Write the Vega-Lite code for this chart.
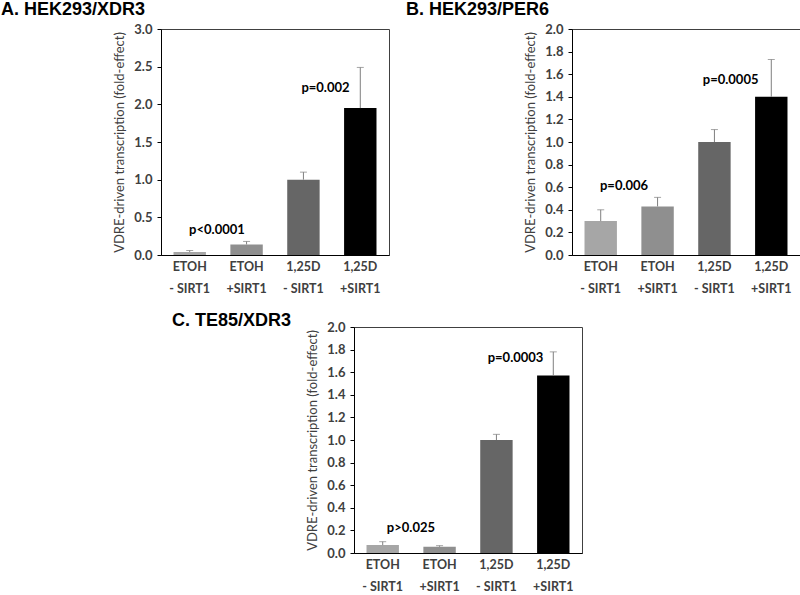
{
  "$schema": "https://vega.github.io/schema/vega-lite/v6.json",
  "padding": 0,
  "autosize": {"type": "pad"},
  "background": "white",
  "config": {
    "view": {"stroke": "#404040", "strokeWidth": 1},
    "axis": {"grid": false, "domainColor": "#000", "tickColor": "#000", "labelColor": "#404040", "labelFont": "Lato", "labelFontWeight": "bold", "labelFontSize": 13, "titleColor": "#404040", "titleFont": "Lato", "titleFontWeight": "normal", "titleFontSize": 13},
    "axisX": {"title": null, "labelAngle": 0, "ticks": false, "labelPadding": 5, "labelLineHeight": 22, "labelFontSize": 12.5, "labelExpr": "split(datum.label, '|')"},
    "axisY": {"tickSize": 4, "labelPadding": 5, "titlePadding": 7, "labelOverlap": false, "labelFlush": false},
    "title": {"font": "Liberation Sans", "fontSize": 18, "fontWeight": "bold", "color": "#000", "anchor": "start", "frame": "group", "baseline": "alphabetic"},
    "bar": {"stroke": null},
    "rule": {"color": "#7f7f7f", "strokeWidth": 1},
    "tick": {"color": "#7f7f7f", "thickness": 1, "size": 7},
    "text": {"font": "Lato", "fontWeight": "bold", "fontSize": 13, "color": "#000", "baseline": "middle", "align": "center"}
  },
  "datasets": {
    "a": [
      {"group": "ETOH|- SIRT1", "value": 0.04, "upper": 0.06},
      {"group": "ETOH|+SIRT1", "value": 0.14, "upper": 0.18},
      {"group": "1,25D|- SIRT1", "value": 1.0, "upper": 1.1},
      {"group": "1,25D|+SIRT1", "value": 1.95, "upper": 2.49}
    ],
    "b": [
      {"group": "ETOH|- SIRT1", "value": 0.3, "upper": 0.4},
      {"group": "ETOH|+SIRT1", "value": 0.43, "upper": 0.51},
      {"group": "1,25D|- SIRT1", "value": 1.0, "upper": 1.11},
      {"group": "1,25D|+SIRT1", "value": 1.4, "upper": 1.73}
    ],
    "c": [
      {"group": "ETOH|- SIRT1", "value": 0.07, "upper": 0.1},
      {"group": "ETOH|+SIRT1", "value": 0.055, "upper": 0.065},
      {"group": "1,25D|- SIRT1", "value": 1.0, "upper": 1.05},
      {"group": "1,25D|+SIRT1", "value": 1.57, "upper": 1.78}
    ]
  },
  "spacing": 298,
  "bounds": "flush",
  "vconcat": [
    {
      "spacing": 183,
      "bounds": "flush",
      "hconcat": [
        {
          "width": 228, "height": 226,
          "title": {"text": "A. HEK293/XDR3", "dx": -160, "offset": 4},
          "data": {"name": "a"},
          "encoding": {"x": {"field": "group", "type": "nominal", "scale": {"domain": ["ETOH|- SIRT1", "ETOH|+SIRT1", "1,25D|- SIRT1", "1,25D|+SIRT1"], "paddingInner": 0.43, "paddingOuter": 0.22}}},
          "layer": [
            {"mark": "bar", "encoding": {
              "y": {"field": "value", "type": "quantitative", "scale": {"domain": [0, 3]}, "axis": {"title": "VDRE-driven transcription (fold-effect)", "values": [0, 0.5, 1, 1.5, 2, 2.5, 3], "labelOverlap": false}},
              "color": {"field": "group", "type": "nominal", "scale": {"domain": ["ETOH|- SIRT1", "ETOH|+SIRT1", "1,25D|- SIRT1", "1,25D|+SIRT1"], "range": ["#a6a6a6", "#8f8f8f", "#666666", "#000000"]}, "legend": null}}},
            {"mark": "rule", "encoding": {"y": {"field": "value", "type": "quantitative", "axis": {"title": "VDRE-driven transcription (fold-effect)", "values": [0, 0.5, 1, 1.5, 2, 2.5, 3], "labelOverlap": false}}, "y2": {"field": "upper"}}},
            {"mark": "tick", "encoding": {"y": {"field": "upper", "type": "quantitative", "axis": {"title": "VDRE-driven transcription (fold-effect)", "values": [0, 0.5, 1, 1.5, 2, 2.5, 3], "labelOverlap": false}}}},
            {"data": {"values": [{"group": "ETOH|- SIRT1", "label": "p<0.0001", "level": 0.33}]}, "mark": "text", "encoding": {"x": {"field": "group", "type": "nominal", "bandPosition": 1.34}, "y": {"field": "level", "type": "quantitative", "axis": {"title": "VDRE-driven transcription (fold-effect)", "values": [0, 0.5, 1, 1.5, 2, 2.5, 3], "labelOverlap": false}}, "text": {"field": "label"}}},
            {"data": {"values": [{"group": "1,25D|- SIRT1", "label": "p=0.002", "level": 2.22}]}, "mark": "text", "encoding": {"x": {"field": "group", "type": "nominal", "bandPosition": 1.18}, "y": {"field": "level", "type": "quantitative", "axis": {"title": "VDRE-driven transcription (fold-effect)", "values": [0, 0.5, 1, 1.5, 2, 2.5, 3], "labelOverlap": false}}, "text": {"field": "label"}}}
          ]
        },
        {
          "width": 228, "height": 226,
          "title": {"text": "B. HEK293/PER6", "dx": -166, "offset": 4},
          "data": {"name": "b"},
          "encoding": {"x": {"field": "group", "type": "nominal", "scale": {"domain": ["ETOH|- SIRT1", "ETOH|+SIRT1", "1,25D|- SIRT1", "1,25D|+SIRT1"], "paddingInner": 0.43, "paddingOuter": 0.22}}},
          "layer": [
            {"mark": "bar", "encoding": {
              "y": {"field": "value", "type": "quantitative", "scale": {"domain": [0, 2]}, "axis": {"title": "VDRE-driven transcription (fold-effect)", "values": [0, 0.2, 0.4, 0.6, 0.8, 1, 1.2, 1.4, 1.6, 1.8, 2], "labelOverlap": false}},
              "color": {"field": "group", "type": "nominal", "scale": {"domain": ["ETOH|- SIRT1", "ETOH|+SIRT1", "1,25D|- SIRT1", "1,25D|+SIRT1"], "range": ["#a6a6a6", "#8f8f8f", "#666666", "#000000"]}, "legend": null}}},
            {"mark": "rule", "encoding": {"y": {"field": "value", "type": "quantitative", "axis": {"title": "VDRE-driven transcription (fold-effect)", "values": [0, 0.2, 0.4, 0.6, 0.8, 1, 1.2, 1.4, 1.6, 1.8, 2], "labelOverlap": false}}, "y2": {"field": "upper"}}},
            {"mark": "tick", "encoding": {"y": {"field": "upper", "type": "quantitative", "axis": {"title": "VDRE-driven transcription (fold-effect)", "values": [0, 0.2, 0.4, 0.6, 0.8, 1, 1.2, 1.4, 1.6, 1.8, 2], "labelOverlap": false}}}},
            {"data": {"values": [{"group": "ETOH|- SIRT1", "label": "p=0.006", "level": 0.61}]}, "mark": "text", "encoding": {"x": {"field": "group", "type": "nominal", "bandPosition": 1.22}, "y": {"field": "level", "type": "quantitative", "axis": {"title": "VDRE-driven transcription (fold-effect)", "values": [0, 0.2, 0.4, 0.6, 0.8, 1, 1.2, 1.4, 1.6, 1.8, 2], "labelOverlap": false}}, "text": {"field": "label"}}},
            {"data": {"values": [{"group": "1,25D|- SIRT1", "label": "p=0.0005", "level": 1.55}]}, "mark": "text", "encoding": {"x": {"field": "group", "type": "nominal", "bandPosition": 1.0}, "y": {"field": "level", "type": "quantitative", "axis": {"title": "VDRE-driven transcription (fold-effect)", "values": [0, 0.2, 0.4, 0.6, 0.8, 1, 1.2, 1.4, 1.6, 1.8, 2], "labelOverlap": false}}, "text": {"field": "label"}}}
          ]
        }
      ]
    },
    {
      "spacing": 10,
      "bounds": "flush",
      "hconcat": [
        {"width": 183, "height": 10, "view": {"stroke": null}, "data": {"values": [{"k": 0}]}, "mark": {"type": "point", "opacity": 0}, "encoding": {}},
        {
          "width": 228, "height": 226,
          "title": {"text": "C. TE85/XDR3", "dx": -182, "offset": -9},
          "data": {"name": "c"},
          "encoding": {"x": {"field": "group", "type": "nominal", "scale": {"domain": ["ETOH|- SIRT1", "ETOH|+SIRT1", "1,25D|- SIRT1", "1,25D|+SIRT1"], "paddingInner": 0.43, "paddingOuter": 0.22}}},
          "layer": [
            {"mark": "bar", "encoding": {
              "y": {"field": "value", "type": "quantitative", "scale": {"domain": [0, 2]}, "axis": {"title": "VDRE-driven transcription (fold-effect)", "values": [0, 0.2, 0.4, 0.6, 0.8, 1, 1.2, 1.4, 1.6, 1.8, 2], "labelOverlap": false}},
              "color": {"field": "group", "type": "nominal", "scale": {"domain": ["ETOH|- SIRT1", "ETOH|+SIRT1", "1,25D|- SIRT1", "1,25D|+SIRT1"], "range": ["#a6a6a6", "#8f8f8f", "#666666", "#000000"]}, "legend": null}}},
            {"mark": "rule", "encoding": {"y": {"field": "value", "type": "quantitative", "axis": {"title": "VDRE-driven transcription (fold-effect)", "values": [0, 0.2, 0.4, 0.6, 0.8, 1, 1.2, 1.4, 1.6, 1.8, 2], "labelOverlap": false}}, "y2": {"field": "upper"}}},
            {"mark": "tick", "encoding": {"y": {"field": "upper", "type": "quantitative", "axis": {"title": "VDRE-driven transcription (fold-effect)", "values": [0, 0.2, 0.4, 0.6, 0.8, 1, 1.2, 1.4, 1.6, 1.8, 2], "labelOverlap": false}}}},
            {"data": {"values": [{"group": "ETOH|- SIRT1", "label": "p>0.025", "level": 0.22}]}, "mark": "text", "encoding": {"x": {"field": "group", "type": "nominal", "bandPosition": 1.37}, "y": {"field": "level", "type": "quantitative", "axis": {"title": "VDRE-driven transcription (fold-effect)", "values": [0, 0.2, 0.4, 0.6, 0.8, 1, 1.2, 1.4, 1.6, 1.8, 2], "labelOverlap": false}}, "text": {"field": "label"}}},
            {"data": {"values": [{"group": "1,25D|- SIRT1", "label": "p=0.0003", "level": 1.73}]}, "mark": "text", "encoding": {"x": {"field": "group", "type": "nominal", "bandPosition": 1.09}, "y": {"field": "level", "type": "quantitative", "axis": {"title": "VDRE-driven transcription (fold-effect)", "values": [0, 0.2, 0.4, 0.6, 0.8, 1, 1.2, 1.4, 1.6, 1.8, 2], "labelOverlap": false}}, "text": {"field": "label"}}}
          ]
        }
      ]
    }
  ]
}
